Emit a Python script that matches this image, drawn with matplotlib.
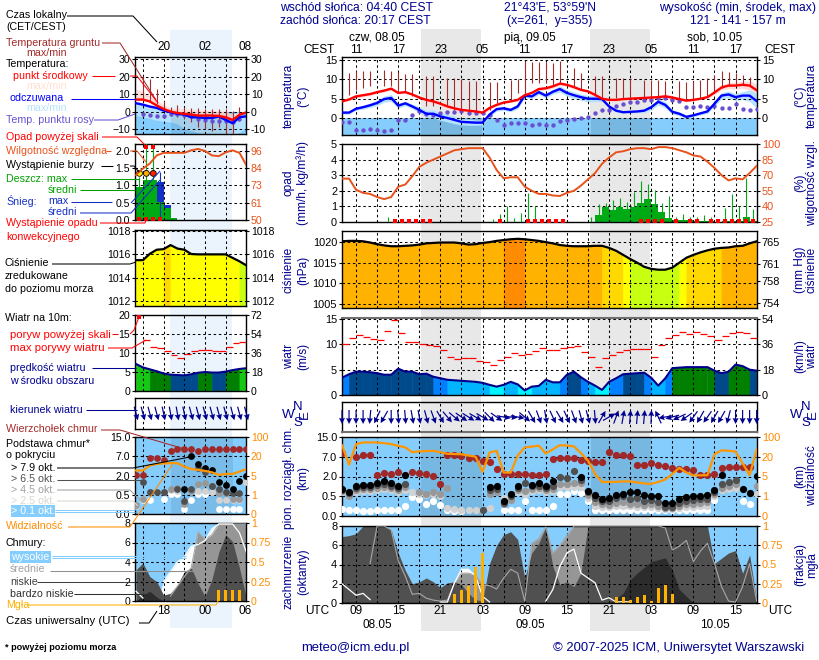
import numpy as np
import matplotlib
matplotlib.use("Agg")
import matplotlib.pyplot as plt
from matplotlib.patches import Rectangle

plt.rcParams["font.family"] = ["Liberation Sans", "DejaVu Sans"]
plt.rcParams["font.size"] = 8.5

n = np.nan

# hourly data, main panel, 08.05 07 UTC .. 10.05 18 UTC
hours = np.arange(7, 67)
temp_mid = [4.3, 4.8, 5.6, 5.9, 6.2, 6.7, 7.1, 7.6, 6.5, 6.7,
            6.1, 5.3, 4.7, 4.3, 3.7, 3.0, 2.5, 2.1, 1.9, 1.7,
            1.4, 2.6, 3.4, 4.0, 4.3, 4.7, 5.9, 6.5, 7.5, 7.7,
            8.2, 8.9, 8.6, 8.0, 7.3, 6.9, 6.0, 5.0, 4.7, 4.7,
            4.9, 5.0, 5.1, 5.2, 5.3, 5.4, 5.6, 5.3, 4.9, 4.5,
            4.7, 5.0, 5.4, 6.6, 7.9, 8.4, 8.4, 8.6, 8.4, 7.2]
temp_mid_spread = [.2, .3, .4, .4, .4, .4, .4, .5, .3, .3,
                   .3, .3, .5, .7, .7, .7, .6, .6, .6, .5,
                   .5, .4, .3, .3, .3, .4, .4, .4, .4, .4,
                   .5, .5, .5, .4, .3, .3, .3, .3, .3, .3,
                   .3, .3, .3, .3, .4, .5, .7, .6, .4, .3,
                   .3, .3, .4, .5, .7, .8, .9, .9, 1.2, 1.6]
temp_feel = [1.4, 1.4, 2.4, 2.8, 3.3, 3.9, 4.9, 5.2, 3.2, 3.8,
             3.0, 2.1, 1.1, 1.1, .4, 0, -.5, -1, -1.1, -1.2,
             -1.2, .9, 2.3, 2.5, 2.1, 3, 5.8, 5.6, 6.7, 5.8,
             6.8, 7.5, 6.5, 5.9, 5.4, 5, 5, 4.9, 3, 1.9,
             1.5, 1.6, 1.7, 1.9, 2.8, 4.2, 3.4, 1.6, 1.1, .3,
             .7, 1.2, 1.7, 3.7, 5.8, 6.1, 5.4, 5.8, 5.8, 4.4]
temp_feel_spread = [.4, .4, .4, .5, .6, .7, .8, .9, .6, .6,
                    .6, .8, .9, 1, 1, 1, 1, .8, .8, .7,
                    .6, .5, .5, .5, .5, .6, .5, .6, .6, .6,
                    .6, .8, .8, .8, .8, .8, .8, .6, .4, .4,
                    .3, .3, .3, .5, .7, .8, .8, .6, .5, .4,
                    .4, .4, .5, .7, .8, .9, .9, 1, 1.5, 1.9]
dew_point = [-1, -1, -3.2, -3, -2.9, -3, -3.3, -3.2, -.4, -.4,
             .7, 1.7, 1, .9, 1.3, 1.5, 1.6, 1.7, 1.3, 1.3,
             1.3, .9, -.4, -1.9, -1.2, -1.2, -1.2, -1.7, -1.5, -1.7,
             -1.7, -.9, -.4, -.3, 0, .2, 1.3, 2.2, 2, 3,
             3.5, 4.1, 4.2, 4.7, 4.7, 5.1, 5.3, 4.7, 4.3, 2.9,
             2.9, 3.2, 2.9, 3.2, 2.7, 2.7, 3.7, 2.4, 2, 2.4]
soil_hours = [8, 9, 10, 11, 13, 14, 15, 16, 17, 19, 20, 22, 23, 24, 25, 26, 28, 29, 31, 32, 33, 34, 35, 36,
              37, 38, 40, 41, 43, 44, 46, 47, 48, 50, 51, 52, 53, 55, 56, 57, 58, 59, 60, 61, 62, 63, 64, 65]
soil_max = [11.6, 12.1, 12.1, 12.2, 12.5, 12.3, 11.8, 11.5, 11.5, 10.9, 10.8, 10.3, 10.3, 10.1, 9.7, 9.5, 9.2, 9.2, 9.9, 10.1, 14.8, 14.5, 14.5, 14.5,
            14.2, 14.8, 12.9, 11.6, 10.9, 10.9, 10.3, 10.3, 10.3, 9.9, 9.9, 9.9, 9.7, 9.5, 9.3, 9.5, 9.9, 10.3, 11.2, 12.2, 11.9, 11.6, 11.2, 10.6]
soil_min = [6, 7.3, 7.9, 8.4, 8.4, 8.4, 6.5, 6.9, 5.6, 3, 3, 3, 2.2, 1.7, 1.7, 1.7, 2.2, 3.9, 4.7, 6.5, 5.6, 9, 9, 9,
            8.6, 9, 8.2, 7.3, 5.6, 5.2, 5.2, 5.2, 5.2, 5.4, 5.4, 5.8, 5.6, 5.2, 4.7, 4.7, 5.2, 5.6, 6.9, 7.8, 8.4, 8.4, 8.6, 8.6]
humidity = [66.7, 66.7, 56, 53, 52, 49, 47, 49, 59, 61,
            69, 78, 82, 85, 88, 91, 94, 95, 96, 96,
            96, 87, 75, 67, 68, 68, 59, 55, 52, 52,
            50.5, 50, 53, 55, 60, 66, 72, 81, 87, 92,
            93, 95, 96, 96, 95, 97, 97, 96, 94, 92,
            89, 88, 83, 77, 70, 65, 67, 66, 72, 79]
rain_max = [0, 0, 0, 0, 0, 0, .33, .2, 0, 0,
            0, 0, 0, 0, 0, 0, 0, 0, 0, 0,
            0, .2, .5, 1.05, .25, .55, 1.85, 1.05, 0, 0,
            0, 0, 0, 0, 0, .33, 1.18, 1.25, 1.44, 1.55,
            1.3, 1.9, 2.6, 2.45, 2.05, 1.2, 1.67, .3, .5, .33,
            .33, .45, .33, .1, .9, 1.8, 1.0, 2.85, .85, 0]
rain_mean = [0, 0, 0, 0, 0, 0, 0, 0, 0, 0,
             0, 0, 0, 0, 0, 0, 0, 0, 0, 0,
             0, 0, 0, 0, 0, 0, 0, 0, 0, 0,
             0, 0, 0, 0, 0, 0, .45, .93, .78, .93,
             .85, .95, 1.2, 1.5, 1.18, .62, .27, .1, .1, .1,
             .05, .05, .05, .03, .05, .05, .05, .3, .05, 0]
convective_hours = [14, 15, 16, 17, 18, 19, 29, 33, 34, 35, 36, 37, 38, 49, 50, 51, 52, 54, 56, 57, 59, 60, 61, 62, 63, 64, 65]
pressure = [1020.2, 1020.3, 1020.3, 1020.2, 1019.9, 1019.5, 1019.2, 1019.0, 1019.0, 1019.1,
            1019.2, 1019.4, 1019.7, 1019.8, 1019.9, 1019.9, 1019.9, 1019.7, 1019.4, 1019.5,
            1019.8, 1020.0, 1020.3, 1020.5, 1020.7, 1020.8, 1020.7, 1020.5, 1020.3, 1020.0,
            1019.7, 1019.3, 1019.1, 1019.0, 1019.0, 1019.0, 1019.1, 1019.1, 1018.6, 1017.9,
            1016.9, 1015.9, 1015.0, 1014.0, 1013.5, 1013.3, 1013.3, 1013.8, 1015.0, 1016.2,
            1016.9, 1017.5, 1018.0, 1018.4, 1018.6, 1018.7, 1019.0, 1019.1, 1019.7, 1020.2]
wind = [3.4, 4.1, 4.6, 4.6, 4.5, 4.3, 4.0, 4.0, 5.2, 4.6,
        4.6, 4.1, 4.2, 3.6, 3.3, 3.0, 2.9, 2.8, 2.7, 2.6,
        2.4, 2.0, 1.65, 2.0, 2.6, 2.1, .9, 1.65, 1.8, 3.0,
        2.5, 2.5, 4, 4.6, 3.5, 2.6, 1.85, 1, 2.6, 3.3,
        4.1, 4.2, 4.3, 4.4, 3.4, 1.85, 3.3, 5.3, 5.4, 5.5,
        5.5, 5.5, 5.5, 4.8, 4.3, 4.6, 6, 5.7, 5, 4.8]
wind_class = [2, 3, 3, 3, 3, 3, 3, 3, 3, 3,
              3, 3, 3, 2, 2, 1, 1, 1, 1, 1,
              1, 0, 0, 1, 1, 0, 0, 1, 1, 1,
              1, 2, 3, 3, 2, 1, 0, 0, 2, 2,
              3, 3, 3, 2, 1, 1, 2, 4, 4, 4,
              4, 4, 4, 3, 3, 4, 4, 4, 3]
gust = [10, 11.2, 11.8, 11.4, 11, 10.8, 12.6, 14.8, 12.2, 10.4,
        10.4, 10, 9.8, 9.6, 8.9, 7.5, 7.1, 7.3, 7.3, 6.7,
        6.5, 5.9, 6.9, 7.5, 8.3, 7.9, 8.1, 8.7, 9.3, 8.9,
        8.8, 9.2, 9.5, 9.65, 8.5, 7.5, 5.5, 7.3, 7.8, 8.5,
        8.9, 9.05, 9.05, 9.05, 7.5, 9.85, 11.2, 11.9, 12.4, 12.1,
        12.4, 12, 11.6, 10.8, 11.6, 12.2, 12.4, 12.2, 11.2]
wind_dir = [180, 180, 180, 180, 185, 205, 210, 180, 175, 175,
            170, 170, 165, 160, 150, 140, 130, 125, 122, 120,
            120, 135, 125, 100, 95, 100, 130, 150, 160, 170,
            155, 150, 155, 160, 165, 165, 175, 30, 60, 20,
            10, 5, 5, 5, 2, 335, 260, 255, 245, 235,
            215, 210, 215, 210, 210, 195, 180, 180, 180, 180]
cloud_top = [8.4, n, 7, 7.6, 7.6, 2.4, 2.8, 2.7, 3.2, n,
             3.2, 2.95, 2.6, 2.1, 1.46, 7.6, 7.6, 7.3, 6.8, 6.6,
             6, 5.75, 3.95, 2.7, 2.7, 2.7, 2.7, 2.4, 2.4, 2.7,
             6.35, 6.6, 6.6, 6.6, 6.25, 5.95, 5.75, 5.75, 9, 7.6,
             7.6, 7.2, 4.9, 4.9, 5.5, 4.9, 4.65, 4.05, 3.95, 3.8,
             3.55, 2.5, 2.5, 2.7, 4.2, 4.5, 4.5, 4.5, 4.5, n]
base_79 = [1.08, .82, 1.26, 1.36, 1.36, 1.5, 1.64, 1.5, 1.26, 2.5,
           n, n, n, n, n, n, n, n, n, n,
           n, 1.2, 1.26, .39, .67, 1.26, n, 1.38, 1.5, 1.26,
           1.64, n, n, n, 1.95, .92, .56, .44, .45, .56,
           .67, .85, .85, .62, .55, .55, .32, .34, .44, .48,
           .5, .55, .56, 1, 2.5, n, n, 1.05, .74, 2.1]
base_65 = [1.0, .75, 1.15, 1.2, 1.2, 1.35, 1.4, 1.3, 1.1, 1.4,
           n, n, n, n, n, n, n, n, n, n,
           .16, 1.0, 1.05, .33, .5, 1.1, 1.5, 1.25, 1.3, 1.1,
           1.3, 2.0, 1.9, 3.4, 1.7, .8, .45, .38, .38, .45,
           .5, .43, .45, .37, .4, .35, .22, .24, .33, .38,
           .4, .42, .44, .8, 1.45, 1.6, 1.75, n, n, n]
base_45 = [.9, .55, 1, 1.05, 1.05, 1.15, 1.2, 1.1, .95, 1.2,
           n, .8, .7, .85, .65, 1.1, n, n, n, n,
           n, .7, .8, .3, .4, .95, .9, 1.05, 1.1, .95,
           1.05, 1.4, 1.4, 1.5, 1.5, .6, .35, .3, .28, .33,
           .35, .3, .3, .28, .3, .25, .2, .2, .25, .3,
           .3, .33, .35, .65, 1.15, 1.25, 1.4, n, n, 1.3]
base_25 = [.8, .5, .85, .9, .9, 1, 1.05, .95, .85, 1,
           .85, .7, .6, .65, .55, .2, .17, .14, .14, .14,
           .14, .2, n, .45, .42, .8, .7, .9, .95, .85,
           .9, 1.2, 1.2, 1.2, 1.2, .45, .25, .22, .22, .25,
           .25, .25, .22, .22, .22, .2, .17, .17, .2, .22,
           .23, .25, .25, .5, .95, 1.05, 1.15, n, n, .7]
base_01 = [.17, .14, .14, .13, .13, .14, .16, .15, .15, .26,
           .48, .42, .3, .38, .27, .14, .12, .12, n, n,
           n, n, n, .15, .14, .14, .38, .16, .15, .14,
           .25, .67, .67, .9, .75, .37, .14, .14, .14, .14,
           .14, .14, .14, .14, .14, .14, .14, .14, .14, .14,
           .14, .14, .14, .4, n, n, n, .39, .3, n]
visibility = [67, 14, 71, 78, 78, 78, 75, 71, 64, 58,
              38, 42, 43, 44, 38, 32, 31, 30, 25, 20,
              8.6, 37, 44, 8, 8, 25, 58, 61, 65, 33,
              50, 67, 65, 62, 35, 17, 7, 3.9, 3.9, 3.9,
              4, 4, 3.8, 3.6, 3.5, 3.9, 4.4, 7, 11.6, 8,
              5.8, 5.9, 6, 30, 46, 44, 41, 15, 6, 50]
cover_high = [2, 1.4, .8, 1, .35, 0, 0, 0, 0, 0,
              0, 0, 0, 0, .1, .1, 2.1, 3.5, 3.5, 2.8,
              .7, .1, 0, 0, 0, 0, 0, 0, 0, .2,
              1.4, 3.8, 5.2, 5.6, 3.1, 2.6, 2.1, .3, .55, .1,
              .15, .1, 0, 0, 0, 0, 0, 0, 0, 0,
              0, 0, 0, 0, 0, 0, 0, 0, 0, 0]
cover_mid = [0, 0, 0, 0, 4.1, 8, 8, 7.6, 4.4, 2.8,
             .9, 1, .5, .3, .2, .3, 2.1, 3.1, 3.1, 2.9,
             1.9, 1.8, 1.45, 2.6, 3.5, 3.1, .2, 6.2, 6.7, 7.9,
             5.2, 6, 7, 8, 8, 8, 8, 8, 8, 8,
             8, 8, 8, 8, 8, 8, 7.8, 5.5, 5.9, 6.5,
             4.3, 5.4, 6.2, 4.1, 1.7, .2, .1, 1.7, 4.1, .2]
cover_low = [6.9, 7.0, 7.2, 8, 8, 8, 8, 7.6, 5.2, 3.4,
             2, 2.2, 2.6, 2.2, 1.6, 2.1, 2.2, 1.9, 1, .35,
             .2, 4.1, 6, 7.1, 7.4, 6.6, 2.6, 5.2, 6.2, 7.9,
             3.8, 1.9, 2.2, 1.7, 3.1, 8, 8, 8, 8, 8,
             8, 8, 8, 8, 8, 8, 8, 8, 8, 8,
             8, 8, 8, 4.1, 4.65, 5.2, 5.45, 3.1, 5, .2]
cover_very_low = [.1, .15, .1, 0, 0, 0, 0, 0, 0, 0,
                  0, 0, 0, 0, 0, 0, 0, 0, 0, 0,
                  0, 0, 0, 0, 0, 0, 0, 0, 0, 0,
                  0, 0, 0, 0, 0, 0, 0, 0, 0, .5,
                  1, 2.4, 3.1, 3.7, 4.3, 4.5, 4.7, 3.4, 1.4, .7,
                  0, 0, 0, 0, 0, 0, 0, 0, 0, 0]
fog = [0, 0, 0, 0, 0, 0, 0, 0, 0, 0,
       0, 0, 0, 0, 0, 0, .12, .17, .22, .47,
       .65, 0, 0, 0, 0, 0, 0, 0, 0, 0,
       0, 0, 0, 0, 0, 0, 0, 0, 0, .08,
       .08, .04, .08, .1, .03, .2, .24, .12, 0, 0,
       0, 0, 0, 0, 0, 0, 0, 0, 0, 0]

# hourly data, left panel, previous evening (14 .. 30 means 14 UTC .. 06 UTC)
l_hours = np.arange(14, 31)
l_mid = [6.9, 6.9, 5.8, 3.5, 1.5, 0, -.8, -1.3, -1.7, -2.3, -2.3, -2.3, -2.5, -3.3, -4.8, -1.9, -.4]
l_feel = [4.8, 4, 2.9, 2.1, .6, -.4, -1.3, -1.7, -3.3, -3.3, -3.7, -3.7, -2.9, -4.8, -6.7, -3.3, -2.7]
l_mid_top = [13, 11.5, 9, 6.3, 4, 1.9, 1.7, 1.5, 1.2, 1, .8, .6, .4, 0, -1.3, -.5, 0]
l_feel_low = [-2.3, -3, -4, -5, -5.5, -6, -7, -10, -11, -12, -13, -13, -13, -13, -13, -12, -9]
l_dew = [n, -1.3, -1.9, -2.3, -2.7, -1.3, -1.3, -1.7, -2.3, -4.2, -4.8, -5.2, -5.2, -5.6, -6.2, -4.2, n]
l_soil_hours = [15, 16, 17, 18, 19, 20, 21, 22, 23, 24, 25, 26, 27, 28, 29]
l_soil_max = [20.2, 18.8, 13, 6.3, 2.5, 3.5, 2.5, 2.1, 2.1, 1.5, 1.5, 1.5, 1.5, .6, 2.5]
l_soil_min = [6.3, 5.4, 4.4, 1.5, -2.3, -3.3, -4.2, -6.2, -8.7, -10, -11, -8.7, -12.9, -12.9, -5.2]
l_humidity = [80, 84.3, 87.6, 93, 94.7, 94.7, 94.7, 94.7, 96.4, 97.3, 96, 93, 92.5, 95, 96.4, 94.7, 86.5]
l_rain_mean = [.96, 1.15, 1.17, .53, .34, .07, 0, 0, 0, 0, 0, 0, 0, 0, 0, 0, 0]
l_snow_mean = [0, 0, 0, .57, .09, 0, 0, 0, 0, 0, 0, 0, 0, 0, 0, 0, 0]
l_rain_max = [1.25, 2.5, 2.5, 0, 0, 0, 0, 0, 0, 0, 0, 0, 0, 0, 0, 0, 0]
l_snow_max = [0, 0, 0, 1.4, 0, 0, 0, 0, 0, 0, 0, 0, 0, 0, 0, 0, 0]
l_storm_hours = [14, 15, 16]
l_convective_hours = [14, 15, 16, 17]
l_pressure = [1015.5, 1015.5, 1016.05, 1016.4, 1016.45, 1016.8, 1016.5, 1016.4, 1016.03, 1016, 1016, 1016, 1016, 1016, 1015.7, 1015.4, 1015.05]
l_wind = [7.1, 6.2, 5.7, 5.2, 4.6, 4.3, 4.2, 4.1, 4.4, 4.8, 5.0, 4.85, 4.85, 5.1, 5.5, 5.8, 6]
l_wind_class = [5, 5, 4, 4, 4, 3, 3, 3, 3, 4, 4, 3, 3, 4, 4, 5]
l_gust = [25, 13.4, 11.5, 11.3, 10.4, 9.4, 8.6, 9.7, 10.5, 10.7, 10.7, 10.4, 10.4, 11.5, 12.6, 12.8]
l_wind_dir = [165, 165, 165, 165, 168, 170, 170, 168, 165, 165, 165, 165, 165, 165, 165, 165, 165]
l_top = [2.1, 2.1, 6.5, 6.5, 6.1, 9.2, 10, 10, 10, 9.2, 10, 10, 10, 10, 10, 10, 10]
l_79 = [n, n, n, n, n, n, n, .94, 7, 5, 3.9, 3.5, 1.5, 1.25, .95, 1.6, 2]
l_65 = [n, 1.5, .7, .7, .75, n, .94, .35, .94, 3.9, 3, 1.15, .94, .7, .6, .6, n]
l_45 = [.24, .38, .7, n, .7, .95, 1, .25, .8, 1.33, 1.4, 1.15, .6, .6, .4, .4, n]
l_25 = [.2, .4, n, n, n, .9, .8, n, .8, .8, .8, .7, .37, .37, .37, .37, 1.5]
l_01 = [n, .37, .37, n, .4, .57, .57, .14, .37, .57, .57, n, .14, .14, .14, .14, n]
l_visibility = [8.9, 8.9, 12.8, 14, 14.4, 14.6, 14.6, 12, 10, 9.4, 8.6, 7.5, 5.5, 6.2, 6.2, 8, 10]
l_cover_high = [1, .3, 0, 0, 2, 3, 4, 4.5, 5.6, 5.8, 6.2, 7.4, 7.9, 7.9, 7.9, 7, 5]
l_cover_mid = [0, 0, 0, 0, 0, .5, 1.5, 2.5, 3.4, 7.1, 6.3, 6.8, 7.9, 7.9, 7.9, 7.9, 7.9]
l_cover_low = [3.2, 3.9, 2.5, 2, .6, .8, 1.65, 3, 3.4, 1.8, .45, 2.2, 5, 6.8, 6.1, 3.4, .3]
l_cover_very_low = [0, .6, 1, .4, 0, 0, 0, 0, 0, 0, 0, 0, 0, 0, 0, 0, 0]
l_fog = [0, 0, 0, 0, 0, 0, 0, 0, 0, 0, 0, 0, .14, .14, .14, .14, 0]

top_labels = ["11", "17", "23", "05", "11", "17", "23", "05", "11", "17"]
bottom_labels = ["09", "15", "21", "03", "09", "15", "21", "03", "09", "15"]

W, H = 820, 660
NAVY = "#000090"
SKY = "#85cdfd"
ORANGE = "#ff8c00"
RH_COLOR = "#e8521a"
BAND = {0: "#00f4ff", 1: "#00b4ff", 2: "#0080ff", 3: "#004a8c", 4: "#007f00", 5: "#14c814"}
TICK_SIZE = 7.9

fig = plt.figure(figsize=(W / 100, H / 100), dpi=100, facecolor="white")

bg = fig.add_axes([0, 0, 1, 1], zorder=0)
bg.set_xlim(0, W)
bg.set_ylim(H, 0)
bg.axis("off")
bg.add_patch(Rectangle((170, 30), 62, 598, color="#ebf3fd", lw=0))
bg.add_patch(Rectangle((421, 29), 60, 602, color="#e8e8e8", lw=0))
bg.add_patch(Rectangle((590, 29), 60, 602, color="#e8e8e8", lw=0))


def panel(box, xlim, xticks, ylim, yticks, ylabels=None):
    x0, y0, x1, y1 = box
    ax = fig.add_axes([x0 / W, 1 - y1 / H, (x1 - x0) / W, (y1 - y0) / H], zorder=1)
    ax.patch.set_alpha(0)
    ax.set_xlim(*xlim)
    ax.set_ylim(*ylim)
    ax.set_xticks(xticks)
    ax.set_yticks(yticks)
    if ylabels is not None:
        ax.set_yticklabels(ylabels)
    ax.tick_params(axis="x", length=0, labelbottom=False)
    ax.tick_params(axis="y", length=2, pad=1.5, labelsize=TICK_SIZE)
    ax.set_axisbelow(False)
    ax.grid(True, color="black", lw=0.75, ls=(0, (2.4, 2.6)))
    for s in ax.spines.values():
        s.set_linewidth(1)
    return ax


def right_axis(ax, ylim, ticks, labels=None, color="black", scale=None):
    tw = ax.twinx()
    if scale is not None:
        tw.set_yscale("function", functions=scale)
    tw.set_ylim(*ylim)
    tw.set_yticks(ticks)
    tw.minorticks_off()
    tw.set_yticklabels(labels if labels is not None else [str(t) for t in ticks])
    tw.tick_params(axis="y", length=2, pad=1.5, labelcolor=color, labelsize=TICK_SIZE)
    for s in tw.spines.values():
        s.set_visible(False)
    return tw


def base_forward(v):
    return np.interp(v, [0, .5, 2, 7, 15], [0, 1, 2, 3, 4])


def base_inverse(p):
    return np.interp(p, [0, 1, 2, 3, 4], [0, .5, 2, 7, 15])


def vis_forward(v):
    return np.interp(v, [0, 1, 5, 20, 100], [0, 1, 2, 3, 4])


def vis_inverse(p):
    return np.interp(p, [0, 1, 2, 3, 4], [0, 1, 5, 20, 100])


def pressure_color(p):
    if p < 1015.2:
        return "#c8ff10"
    if p < 1016.6:
        return "#ffff00"
    if p < 1018.65:
        return "#ffd800"
    if p < 1020.65:
        return "#ffb200"
    return "#ff8c00"


def draw_temperature(ax, t, mid, feel, dew, mid_up, mid_lo, feel_up, feel_lo, s_h, s_max, s_min, bottom):
    ax.axhspan(bottom, 0, color=SKY, lw=0, zorder=0.5)
    ax.fill_between(t, mid_lo, mid_up, color="#ffdcdc", lw=0, zorder=0.6)
    ax.fill_between(t, feel_lo, feel_up, color="#b4e2ff", lw=0, zorder=0.7)
    ax.vlines(s_h, s_min, s_max, color="#a52a2a", lw=0.8, zorder=3)
    ax.scatter(t, dew, s=10, color="#6a50d0", lw=0, zorder=3)
    ax.plot(t, mid, color="#ff0000", lw=1.7, zorder=3.2)
    ax.plot(t, feel, color="#0000ff", lw=1.7, zorder=3.1)


def draw_pressure(ax, t, p, bottom):
    for i in range(len(t) - 1):
        col = pressure_color(p[i + 1])
        ax.fill_between(t[i:i + 2], p[i:i + 2], bottom, facecolor=col, edgecolor=col, lw=0.5)
    ax.plot(t, p, color="black", lw=1.6, zorder=3)


def draw_wind(ax, t, v, classes, g):
    for i in range(len(t) - 1):
        col = BAND[classes[i]]
        ax.fill_between(t[i:i + 2], v[i:i + 2], 0, facecolor=col, edgecolor=col, lw=0.5)
    ax.plot(t, v, color="#00008b", lw=1.5, zorder=3)
    gt = t[:len(g)]
    ax.hlines(g, gt, gt + 1, color="#ff0000", lw=0.9, zorder=3)


def draw_arrows(ax, t, d, length=14):
    rad = np.radians(d)
    ax.quiver(t, np.zeros(len(t)), np.sin(rad), np.cos(rad), color="#000090", pivot="mid", angles="uv",
              units="dots", scale_units="dots", scale=1 / length, width=1.2, headwidth=5, headlength=5,
              headaxislength=4.5, clip_on=False, zorder=3)


def draw_bases(ax, t, top, b79, b65, b45, b25, b01, size=27):
    for vals, col in [(b01, "white"), (b25, "#d2d2d2"), (b45, "#989898"), (b65, "#505050"), (b79, "black"), (top, "#a02828")]:
        ax.scatter(t, vals, s=size, color=col, lw=0, zorder=3)


def draw_cover(ax, t, high, mid, low, very_low):
    ax.set_facecolor(SKY)
    ax.patch.set_alpha(1)
    ax.fill_between(t, high, 0, color="white", lw=0, zorder=0.6)
    ax.fill_between(t, mid, 0, color="#969696", lw=0, zorder=0.7)
    ax.fill_between(t, low, 0, color="#505050", lw=0, zorder=0.8)
    ax.fill_between(t, very_low, 0, color="#2c2c2c", lw=0, zorder=0.9)
    ax.plot(t, np.where(np.array(mid) > 0, mid, n), color="#a8a8a8", lw=.8, zorder=3)
    ax.plot(t, np.where(np.array(high) > 0, high, n), color="white", lw=.9, zorder=3)


# main column
M_X = (7, 66.05)
M_TICKS = np.arange(9, 66, 3)
NIGHTS = [(18.3, 26.86), (42.45, 51)]

ax = panel((342, 57, 757, 135), M_X, M_TICKS, (-4.4, 15.8), [0, 5, 10, 15])
mid_arr, feel_arr = np.array(temp_mid), np.array(temp_feel)
draw_temperature(ax, hours, temp_mid, temp_feel, dew_point,
                 mid_arr + temp_mid_spread, mid_arr - temp_mid_spread,
                 feel_arr + temp_feel_spread, feel_arr - temp_feel_spread,
                 soil_hours, soil_max, soil_min, -4.4)
for a, b in NIGHTS:
    ax.add_patch(Rectangle((a, -4.4), b - a, 4.4, color="black", alpha=0.1, lw=0, zorder=0.65))
right_axis(ax, (-4.4, 15.8), [0, 5, 10, 15])

ax = panel((342, 144, 757, 222), M_X, M_TICKS, (0, 5), [0, 1, 2, 3, 4, 5])
ax.bar(hours + .5, rain_mean, width=1, color="#00aa14", lw=0)
ax.vlines(hours + .5, 0, rain_max, color="#00aa14", lw=.8, zorder=2.8)
ax.scatter(np.array(convective_hours) + .5, [.04] * len(convective_hours), marker="s", s=5, color="#ff0000", lw=0, zorder=3, clip_on=False)
tw = right_axis(ax, (25, 100), [25, 40, 55, 70, 85, 100], color=RH_COLOR)
tw.plot(hours, humidity, color=RH_COLOR, lw=1.4)

ax = panel((342, 231, 757, 308), M_X, M_TICKS, (1004, 1022.7), [1005, 1010, 1015, 1020])
draw_pressure(ax, hours, pressure, 1004)
right_axis(ax, (1004 * .75006, 1022.7 * .75006), [754, 758, 761, 765])

ax = panel((342, 318, 757, 395), M_X, M_TICKS, (0, 15.2), [0, 5, 10, 15])
draw_wind(ax, hours, wind, wind_class, gust)
ax.spines["top"].set_color("#707070")
ax.spines["top"].set_linewidth(1.5)
right_axis(ax, (0, 15.2 * 3.6), [0, 18, 36, 54])

ax = panel((342, 402, 757, 432), M_X, M_TICKS, (-1, 1), [])
ax.grid(False, axis="y")
draw_arrows(ax, hours, wind_dir)
ax.spines["bottom"].set_color("#707070")
ax.spines["bottom"].set_linewidth(1.5)

ax = panel((342, 437, 757, 516), M_X, M_TICKS, (0, 15), [0], None)
ax.set_yscale("function", functions=(base_forward, base_inverse))
ax.set_ylim(0, 15)
ax.set_yticks([0, .5, 2, 7, 15])
ax.minorticks_off()
ax.set_yticklabels(["0.0", "0.5", "2.0", "7.0", "15.0"])
ax.set_facecolor(SKY)
ax.patch.set_alpha(1)
for a, b in NIGHTS:
    ax.axvspan(a, b, color="black", alpha=0.1, lw=0, zorder=0.5)
draw_bases(ax, hours, cloud_top, base_79, base_65, base_45, base_25, base_01)
tw = right_axis(ax, (0, 100), [0, 1, 5, 20, 100], color=ORANGE, scale=(vis_forward, vis_inverse))
tw.plot(hours, visibility, color="#ff9600", lw=1.6)

ax = panel((342, 526, 757, 603), M_X, M_TICKS, (0, 8), [0, 2, 4, 6, 8])
draw_cover(ax, hours, cover_high, cover_mid, cover_low, cover_very_low)
tw = right_axis(ax, (0, 1), [0, .25, .5, .75, 1], ["0", "0.25", "0.5", "0.75", "1"], color=ORANGE)
tw.bar(hours, fog, width=.42, color="#ffb000", lw=0)

# left column
TICK_SIZE = 7.6
L_X = (13.85, 29.95)
L_TICKS = [15, 18, 21, 24, 27]

ax = panel((135, 57, 246, 134), L_X, L_TICKS, (-12.9, 31.4), [-10, 0, 10, 20, 30])
draw_temperature(ax, l_hours, l_mid, l_feel, l_dew, l_mid_top, l_mid, l_feel, l_feel_low,
                 l_soil_hours, l_soil_max, l_soil_min, -12.9)
ax.add_patch(Rectangle((19.05, -12.9), 8.95, 12.9, color="black", alpha=0.08, lw=0, zorder=0.75))
right_axis(ax, (-12.9, 31.4), [-10, 0, 10, 20, 30])

ax = panel((135, 144, 246, 220), L_X, L_TICKS, (0, 2.2), [0, .5, 1, 1.5, 2], ["0.0", "0.5", "1.0", "1.5", "2.0"])
lt = l_hours + .5
ax.bar(lt, l_snow_mean, bottom=l_rain_mean, width=1, color="#1430c8", lw=0)
ax.bar(lt, l_rain_mean, width=1, color="#00aa14", lw=0)
ax.vlines(lt, 0, l_rain_max, color="#00aa14", lw=.8, zorder=2.8)
ax.vlines(lt, 0, l_snow_max, color="#1430c8", lw=.8, zorder=2.8)
above = [h + .5 for h, r in zip(l_hours, l_rain_max) if r > 2.1]
ax.scatter(above, [2.1] * len(above), marker="s", s=9, color="#ff0000", lw=0, zorder=3)
ax.scatter(np.array(l_storm_hours) + .5, [1.35] * 3, s=18, c=["#ffee00", "#ffaa00", "#ff2000"], edgecolors="black", lw=.6, zorder=3.1)
ax.scatter(np.array(l_convective_hours) + .5, [.02] * 4, marker="s", s=5, color="#ff0000", lw=0, zorder=3, clip_on=False)
tw = right_axis(ax, (50, 100.6), [50, 61.5, 73, 84.5, 96], ["50", "61", "73", "84", "96"], color=RH_COLOR)
tw.plot(l_hours, l_humidity, color=RH_COLOR, lw=1.4)

ax = panel((135, 230, 246, 306), L_X, L_TICKS, (1011.55, 1018.1), [1012, 1014, 1016, 1018])
draw_pressure(ax, l_hours, l_pressure, 1011.55)
right_axis(ax, (1011.55, 1018.1), [1012, 1014, 1016, 1018])

ax = panel((135, 315, 246, 391), L_X, L_TICKS, (0, 20), [0, 5, 10, 15, 20])
draw_wind(ax, l_hours, l_wind, l_wind_class, l_gust)
ax.scatter([14.5], [19.6], marker="s", s=7, color="#ff0000", lw=0, zorder=3)
right_axis(ax, (0, 72), [0, 18, 36, 54, 72])

ax = panel((135, 398, 246, 429), L_X, L_TICKS, (-1, 1), [])
ax.grid(False, axis="y")
draw_arrows(ax, l_hours, l_wind_dir)

ax = panel((135, 437, 246, 514), L_X, L_TICKS, (0, 15), [0])
ax.set_yscale("function", functions=(base_forward, base_inverse))
ax.set_ylim(0, 15)
ax.set_yticks([0, .5, 2, 7, 15])
ax.minorticks_off()
ax.set_yticklabels(["0.0", "0.5", "2.0", "7.0", "15.0"])
ax.set_facecolor(SKY)
ax.patch.set_alpha(1)
ax.axvspan(19.05, 28, color="black", alpha=0.08, lw=0, zorder=0.5)
draw_bases(ax, l_hours, l_top, l_79, l_65, l_45, l_25, l_01, size=24)
tw = right_axis(ax, (0, 100), [0, 1, 5, 20, 100], color=ORANGE, scale=(vis_forward, vis_inverse))
tw.plot(l_hours, l_visibility, color="#ff9600", lw=1.6)

ax = panel((135, 523, 246, 601), L_X, L_TICKS, (0, 8), [0, 2, 4, 6, 8])
draw_cover(ax, l_hours, l_cover_high, l_cover_mid, l_cover_low, l_cover_very_low)
tw = right_axis(ax, (0, 1), [0, .25, .5, .75, 1], ["0", "0.25", "0.5", "0.75", "1"], color=ORANGE)
tw.bar(l_hours, l_fog, width=.42, color="#ffb000", lw=0)

# texts and connector lines, in pixel coordinates
ov = fig.add_axes([0, 0, 1, 1], zorder=5)
ov.set_xlim(0, W)
ov.set_ylim(H, 0)
ov.axis("off")


def lab(x, y, s, color="black", ha="left", **kw):
    ov.text(x, y, s, color=color, ha=ha, va="center", **kw)


def leg(x, y, s, color="black", ha="left", size=7.7):
    ov.text(x, y, s, color=color, ha=ha, va="center", fontsize=size)


def conn(xs, ys, color="black"):
    ov.plot(xs, ys, color=color, lw=0.75, solid_capstyle="butt")


def hx(h):
    return 342.2 + (h - 7) * 7.02


def vlab(x, y, s):
    ov.text(x, y, s, color=NAVY, rotation=90, ha="center", va="center", fontsize=8.6)


lab(280, 8, "wschód słońca: 04:40 CEST", NAVY, fontsize=8.7)
lab(280, 21, "zachód słońca: 20:17 CEST", NAVY, fontsize=8.7)
lab(550, 8, "21°43'E, 53°59'N", NAVY, ha="center", fontsize=8.7)
lab(550, 21, "(x=261,  y=355)", NAVY, ha="center", fontsize=8.7)
lab(738, 8, "wysokość (min, środek, max)", NAVY, ha="center", fontsize=8.7)
lab(738, 21, "121 - 141 - 157 m", NAVY, ha="center", fontsize=8.7)

lab(377, 38, "czw, 08.05", ha="center")
lab(530, 38, "pią, 09.05", ha="center")
lab(715, 38, "sob, 10.05", ha="center")
lab(319, 50, "CEST", ha="center")
lab(780, 50, "CEST", ha="center")
for i, s in enumerate(top_labels):
    lab(hx(9 + 6 * i), 50, s, ha="center")
lab(317, 611, "UTC", ha="center")
lab(780, 611, "UTC", ha="center")
for i, s in enumerate(bottom_labels):
    lab(hx(9 + 6 * i), 611, s, ha="center")
lab(377, 625, "08.05", ha="center")
lab(530, 625, "09.05", ha="center")
lab(715, 625, "10.05", ha="center")

for a, b, yc in [("temperatura", "(°C)", 96), ("opad", "(mm/h, kg/m³/h)", 183), ("ciśnienie", "(hPa)", 270),
                 ("wiatr", "(m/s)", 356), ("pion. rozciągł. chm.", "(km)", 478), ("zachmurzenie", "(oktanty)", 572)]:
    vlab(289, yc, a)
    vlab(303, yc, b)
for a, b, yc in [("(°C)", "temperatura", 96), ("(%)", "wilgotność wzgl.", 183), ("(mm Hg)", "ciśnienie", 270),
                 ("(km/h)", "wiatr", 356), ("(km)", "widzialność", 476), ("(frakcja)", "mgła", 565)]:
    vlab(800, yc, a)
    vlab(812, yc, b)

for x0 in (288, 796):
    lab(x0, 415, "W", NAVY, ha="center", fontsize=9.5)
    lab(x0 + 10, 407, "N", NAVY, ha="center", fontsize=9.5)
    lab(x0 + 10, 423, "S", NAVY, ha="center", fontsize=9.5)
    lab(x0 + 17, 415, "E", NAVY, ha="center", fontsize=9.5, rotation=90)

# left legend
for s, x in [("20", 164), ("02", 205), ("08", 245)]:
    lab(x, 47, s, ha="center")
for s, x in [("18", 164), ("00", 205), ("06", 245)]:
    lab(x, 611, s, ha="center")

leg(6, 15, "Czas lokalny")
leg(6, 27, "(CET/CEST)")
conn([67, 133, 157], [16, 16, 42])
leg(6, 43, "Temperatura gruntu", "#a52a2a")
leg(47, 53, "max/min", "#a52a2a", ha="center")
conn([102, 120, 156], [43, 43, 100], "#a52a2a")
leg(6, 64, "Temperatura:")
leg(13, 76, "punkt środkowy", "#ff0000")
conn([92, 115], [76, 76], "#ff0000")
conn([130, 137, 158], [76, 76, 103], "#ff0000")
leg(47, 86, "max/min", "#ffe0d0", ha="center")
leg(10, 98, "odczuwana", "#0000ff")
conn([71, 135], [99, 99], "#0000ff")
leg(47, 108, "max/min", "#b4e2ff", ha="center")
leg(6, 120, "Temp. punktu rosy", "#6a50d0")
conn([94, 118, 135], [120, 120, 114], "#6a50d0")
leg(6, 137, "Opad powyżej skali", "#ff0000")
conn([102, 137, 146], [137, 137, 146], "#ff0000")
leg(6, 151, "Wilgotność względna", RH_COLOR)
conn([106, 111], [151, 151], RH_COLOR)
conn([130, 137, 146], [151, 151, 162], RH_COLOR)
leg(6, 165, "Wystąpienie burzy")
conn([101, 113], [166, 166])
conn([130, 134, 139], [166, 166, 172])
leg(6, 179, "Deszcz: max", "#00a000")
conn([71, 139], [179, 179], "#00a000")
leg(48, 190, "średni", "#00a000")
conn([80, 135], [190, 190], "#00a000")
leg(6, 201, "Śnieg:", "#1430c8")
leg(48, 201, "max", "#1430c8")
conn([71, 112], [202, 202], "#1430c8")
conn([131, 160], [203, 171], "#1430c8")
leg(48, 212, "średni", "#1430c8")
conn([80, 131, 160], [213, 213, 180], "#1430c8")
leg(6, 223, "Wystąpienie opadu", "#ff0000")
conn([100, 145, 146], [223, 223, 220], "#ff0000")
leg(6, 237, "konwekcyjnego", "#ff0000")

leg(5, 263, "Ciśnienie")
conn([52, 130, 136], [264, 264, 262])
leg(5, 276, "zredukowane")
leg(5, 289, "do poziomu morza")

leg(5, 318, "Wiatr na 10m:")
leg(10, 335, "poryw powyżej skali", "#ff0000", size=8.2)
conn([112, 118], [334, 334], "#ff0000")
conn([130, 134, 139], [334, 330, 317], "#ff0000")
leg(10, 348, "max porywy wiatru", "#ff0000", size=8.2)
conn([108, 132, 146], [348, 348, 340], "#ff0000")
leg(10, 368, "prędkość wiatru", NAVY)
conn([92, 136], [368, 368], NAVY)
leg(10, 381, "w środku obszaru", NAVY)
leg(10, 410, "kierunek wiatru", NAVY)
conn([86, 137], [410, 410], NAVY)

leg(6, 429, "Wierzchołek chmur", "#a52a2a")
conn([101, 120, 188], [430, 430, 450], "#a52a2a")
leg(6, 444, "Podstawa chmur*")
leg(6, 455, "o pokryciu")
leg(11, 468, "> 7.9 okt.")
conn([57, 133, 190], [468, 468, 457])
leg(11, 479, "> 6.5 okt.", "#505050")
conn([57, 143], [480, 480], "#505050")
leg(11, 490, "> 4.5 okt.", "#a0a0a0")
conn([57, 130, 143], [490, 490, 503], "#a0a0a0")
leg(11, 501, "> 2.5 okt.", "#d8d8d0")
conn([57, 133, 138], [501, 501, 506], "#d8d8d0")
ov.add_patch(Rectangle((11, 505), 44, 12, color=SKY, lw=0))
leg(11, 511, "> 0.1 okt.", "white")
conn([55, 135], [510, 510], SKY)
conn([55, 135], [512, 512], SKY)
leg(6, 526, "Widzialność", ORANGE)
conn([68, 130, 172], [527, 527, 465], ORANGE)
leg(6, 543, "Chmury:")
ov.add_patch(Rectangle((10, 551), 41, 12, color=SKY, lw=0))
leg(11, 557, "wysokie", "white")
conn([52, 186], [556, 556], SKY)
conn([52, 186], [558, 558], SKY)
leg(10, 569, "średnie", "#a0a0a0")
conn([50, 195], [571, 571], "#909090")
leg(10, 582, "niskie", "#404040")
conn([37, 135], [582, 582], "#404040")
leg(10, 594, "bardzo niskie", "#303030")
conn([74, 150], [594, 594], "#303030")
leg(6, 605, "Mgła", "#ffb000")
conn([27, 216, 218], [605, 605, 601], "#ffb000")
lab(6, 621, "Czas uniwersalny (UTC)", fontsize=8.2)
conn([139, 149, 157], [623, 623, 611])

lab(5, 648, "* powyżej poziomu morza", fontsize=6.6, fontweight="bold")
lab(355, 648, "meteo@icm.edu.pl", NAVY, ha="center", fontsize=9.4)
lab(679, 648, "© 2007-2025 ICM, Uniwersytet Warszawski", NAVY, ha="center", fontsize=9.4)

plt.savefig("out.png", dpi=100)
